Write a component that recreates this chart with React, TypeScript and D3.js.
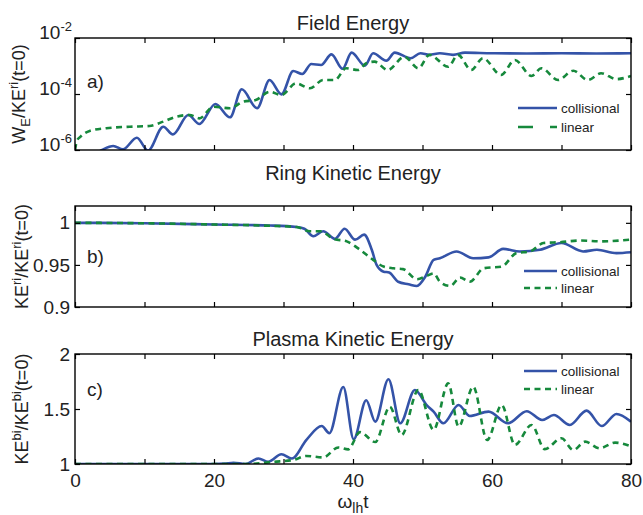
import React, { useEffect, useRef } from "react";
import * as d3 from "d3";

const width = 643;
const height = 515;

// x axis (omega_lh t)
const xTicks = [0, 10, 20, 30, 40, 50, 60, 70, 80];
const xTickLabels = [0, 20, 40, 60, 80];
const seriesNames = ["collisional", "linear"];

// y ticks per panel
const fieldTicks = [1e-6, 1e-4, 1e-2];
const ringTicks = [0.9, 0.95, 1];
const plasmaTicks = [1, 1.5, 2];

// a) Field Energy  [t, W_E/KE(t=0)]
const fieldCollisional = [
  [2.0, 5e-7], [3.9, 1.0e-6], [5.5, 1.39e-6], [6.9, 1.05e-6], [8.9, 2.75e-6],
  [10.5, 9.5e-7], [12.7, 6.8e-6], [14.1, 3.6e-6], [16.3, 1.78e-5], [17.9, 8.5e-6],
  [20.2, 4.4e-5], [22.3, 1.47e-5], [24.0, 1.47e-4], [26.2, 3.1e-5], [28.0, 3.16e-4],
  [29.7, 9.7e-5], [31.4, 6.6e-4], [32.7, 5.2e-4], [34.0, 1.18e-3], [35.4, 1.09e-3],
  [36.9, 2.6e-3], [38.5, 8.0e-4], [39.8, 3.0e-3], [41.7, 1.03e-3], [42.9, 2.85e-3],
  [44.8, 1.55e-3], [46.0, 3.0e-3], [48.3, 1.9e-3], [49.7, 2.85e-3], [51.0, 2.5e-3],
  [52.5, 2.85e-3], [54.4, 2.5e-3], [56.1, 3.0e-3], [60, 2.85e-3], [65, 2.8e-3],
  [70, 2.85e-3], [75, 2.8e-3], [80, 2.85e-3],
];
const fieldLinear = [
  [0, 1.0e-6], [0.3, 2.2e-6], [0.8, 3.0e-6], [2.1, 4.8e-6], [4.5, 6.0e-6],
  [7.9, 6.8e-6], [10.7, 7.2e-6], [12.7, 1.03e-5], [14.6, 1.55e-5], [16.5, 1.78e-5],
  [17.9, 1.35e-5], [19.9, 3.5e-5], [22.3, 3.1e-5], [24.2, 5.3e-5], [26.0, 6.1e-5],
  [28.0, 1.2e-4], [29.7, 9.2e-5], [31.8, 2.4e-4], [33.8, 1.6e-4], [35.7, 3.16e-4],
  [37.4, 3.16e-4], [39.0, 8.3e-4], [40.7, 7.2e-4], [41.9, 1.25e-3], [43.1, 1.43e-3],
  [45.0, 7.2e-4], [47.4, 2.15e-3], [49.4, 8.3e-4], [51.0, 2.5e-3], [53.7, 9.4e-4],
  [55.1, 2.5e-3], [57.0, 7.2e-4], [58.7, 1.9e-3], [61.3, 4.8e-4], [63.3, 1.64e-3],
  [65.7, 4.4e-4], [67.1, 8.3e-4], [69.5, 3.16e-4], [71.7, 6.8e-4], [73.8, 3.16e-4],
  [75.7, 5.5e-4], [77.9, 3.4e-4], [80, 4.4e-4],
];

// b) Ring Kinetic Energy
const ringCollisional = [
  [0, 1.0], [10, 0.9995], [20, 0.998], [28.1, 0.9968], [31.9, 0.995], [33.0, 0.993],
  [34.3, 0.984], [35.7, 0.99], [37.4, 0.981], [38.8, 0.993], [40.3, 0.98], [41.6, 0.986],
  [42.7, 0.968], [43.4, 0.95], [44.4, 0.942], [45.2, 0.941], [46.5, 0.93], [48.0, 0.927],
  [49.2, 0.925], [50.4, 0.936], [51.6, 0.956], [52.5, 0.958], [54.9, 0.966], [57.3, 0.958],
  [59.5, 0.959], [61.6, 0.969], [64, 0.966], [66.9, 0.968], [70, 0.976], [73.1, 0.966],
  [75.1, 0.968], [77.9, 0.964], [80, 0.965],
];
const ringLinear = [
  [0, 1.0], [10, 0.9995], [20, 0.998], [28, 0.9965], [31.9, 0.995], [33.8, 0.99],
  [35.3, 0.99], [37.2, 0.981], [39.1, 0.978], [41, 0.968], [42.9, 0.956], [44.4, 0.948],
  [45.8, 0.946], [47.2, 0.945], [49.2, 0.933], [50.6, 0.937], [51.6, 0.94], [52.5, 0.93],
  [54, 0.925], [55.4, 0.935], [56.8, 0.93], [58.8, 0.946], [61.4, 0.948], [63.5, 0.964],
  [65.5, 0.966], [67.4, 0.976], [69.8, 0.977], [72.7, 0.979], [75.5, 0.978], [80, 0.98],
];

// c) Plasma Kinetic Energy
const plasmaCollisional = [
  [0, 1], [20, 1.0], [21.5, 1.003], [22.8, 1.012], [24.5, 1.0], [26.4, 1.05], [27.8, 1.02],
  [29.7, 1.088], [31.2, 1.05], [33.3, 1.22], [35.5, 1.345], [36.6, 1.28], [38.6, 1.7],
  [40.1, 1.225], [41.9, 1.58], [43.2, 1.385], [45.1, 1.77], [46.8, 1.37], [48.9, 1.673],
  [50.6, 1.536], [51.6, 1.476], [53.0, 1.37], [55.2, 1.536], [56.8, 1.436], [59.5, 1.476],
  [62.3, 1.37], [65.0, 1.48], [67.2, 1.4], [68.9, 1.445], [71.2, 1.355], [73.6, 1.485],
  [75.8, 1.345], [77.9, 1.455], [80, 1.385],
];
const plasmaLinear = [
  [0, 1], [25, 1.0], [28.5, 1.02], [31.4, 1.036], [33.3, 1.073], [35.7, 1.06], [37.9, 1.15],
  [39.3, 1.133], [41.0, 1.29], [43.2, 1.2], [45.3, 1.52], [47.0, 1.264], [49.4, 1.673],
  [51.6, 1.31], [53.7, 1.733], [55.2, 1.34], [57.3, 1.703], [59.3, 1.218], [61.4, 1.536],
  [63.3, 1.173], [65.7, 1.355], [67.6, 1.135], [70.0, 1.234], [71.7, 1.127], [73.4, 1.203],
  [75.5, 1.143], [77.7, 1.194], [80, 1.16],
];

const BLUE = "#3453a8";
const GREEN = "#16893c";
const FONT = "'Liberation Sans', Arial, Helvetica, sans-serif";

// appends text pieces with vertical shifts (negative = up)
function richText(text, parts) {
  let cur = 0;
  parts.forEach(([str, shift, size]) => {
    text
      .append("tspan")
      .attr("dy", shift - cur)
      .attr("font-size", size)
      .text(str);
    cur = shift;
  });
}

export default function App() {
  const svgRef = useRef();

  useEffect(() => {
    const svg = d3.select(svgRef.current);
    svg.selectAll("*").remove();

    const x = d3.scaleLinear().domain([0, 80]).range([75, 631]);

    const panels = [
      {
        id: "a", title: "Field Energy", titleY: 30, top: 38, bottom: 150,
        y: d3.scaleLog().domain([1e-6, 1e-2]), ticks: fieldTicks, log: true,
        series: [fieldCollisional, fieldLinear], legendY: [108, 127], legendX: 518,
        legendDash: "15,17",
        label: [["W", 0, 18], ["E", 5, 13], ["/KE", 0, 18], ["ri", -7, 13], ["(t=0)", 0, 18]],
        labelX: 25,
      },
      {
        id: "b", title: "Ring Kinetic Energy", titleY: 180, top: 206, bottom: 307,
        y: d3.scaleLinear().domain([0.9, 1.02]), ticks: ringTicks,
        series: [ringCollisional, ringLinear], legendY: [271, 288], legendX: 524,
        legendDash: "6,4.5",
        label: [["KE", 0, 18], ["ri", -7, 13], ["/KE", 0, 18], ["ri", -7, 13], ["(t=0)", 0, 18]],
        labelX: 28,
      },
      {
        id: "c", title: "Plasma Kinetic Energy", titleY: 346, top: 354, bottom: 464,
        y: d3.scaleLinear().domain([1, 2]), ticks: plasmaTicks, xLabels: true,
        series: [plasmaCollisional, plasmaLinear], legendY: [371, 389], legendX: 524,
        legendDash: "6,4.5",
        label: [["KE", 0, 18], ["bi", -7, 13], ["/KE", 0, 18], ["bi", -7, 13], ["(t=0)", 0, 18]],
        labelX: 28,
      },
    ];

    panels.forEach((p) => {
      const y = p.y.range([p.bottom, p.top]);
      const g = svg.append("g").attr("font-family", FONT);

      g.append("clipPath")
        .attr("id", "clip-" + p.id)
        .append("rect")
        .attr("x", 75)
        .attr("y", p.top)
        .attr("width", 556)
        .attr("height", p.bottom - p.top);

      // Title
      g.append("text")
        .attr("x", 353)
        .attr("y", p.titleY)
        .attr("text-anchor", "middle")
        .attr("font-size", 20)
        .attr("fill", "#222")
        .text(p.title);

      // Lines
      const line = d3
        .line()
        .x((d) => x(d[0]))
        .y((d) => y(d[1]))
        .curve(d3.curveMonotoneX);

      const plot = g.append("g").attr("clip-path", `url(#clip-${p.id})`);
      p.series.forEach((data, i) => {
        plot
          .append("path")
          .datum(data)
          .attr("fill", "none")
          .attr("stroke", i === 0 ? BLUE : GREEN)
          .attr("stroke-width", 2.6)
          .attr("stroke-dasharray", i === 0 ? null : "6,4.5")
          .attr("d", line);
      });

      // Axes (ticks inward on all sides)
      const bottomAxis = d3
        .axisBottom(x)
        .tickValues(xTicks)
        .tickSizeInner(-5)
        .tickSizeOuter(0)
        .tickPadding(10)
        .tickFormat((d) => (p.xLabels && xTickLabels.includes(d) ? d : ""));
      g.append("g").attr("transform", `translate(0,${p.bottom})`).call(bottomAxis);
      g.append("g")
        .attr("transform", `translate(0,${p.top})`)
        .call(d3.axisTop(x).tickValues(xTicks).tickSizeInner(-5).tickSizeOuter(0).tickFormat(() => ""));

      const leftAxis = d3
        .axisLeft(y)
        .tickValues(p.ticks)
        .tickSizeInner(-5)
        .tickSizeOuter(0)
        .tickPadding(5)
        .tickFormat((d) => (p.log ? "" : d3.format("~g")(d)));
      const leftG = g.append("g").attr("transform", "translate(75,0)").call(leftAxis);
      g.append("g")
        .attr("transform", "translate(631,0)")
        .call(d3.axisRight(y).tickValues(p.ticks).tickSizeInner(-5).tickSizeOuter(0).tickFormat(() => ""));

      if (p.log) {
        leftG.selectAll(".tick text").each(function (d) {
          const t = d3.select(this);
          t.attr("x", -3);
          richText(t, [
            ["10", 0, 19],
            [String(Math.round(Math.log10(d))), -8, 13],
          ]);
        });
      }

      g.selectAll(".domain").remove();
      g.selectAll(".tick line").attr("stroke", "#000").attr("stroke-width", 1.2);
      g.selectAll(".tick text")
        .attr("font-family", FONT)
        .attr("font-size", 19)
        .attr("fill", "#222");

      // Box
      g.append("rect")
        .attr("x", 75)
        .attr("y", p.top)
        .attr("width", 556)
        .attr("height", p.bottom - p.top)
        .attr("fill", "none")
        .attr("stroke", "#000")
        .attr("stroke-width", 1.4);

      // Panel letter
      g.append("text")
        .attr("x", 87)
        .attr("y", (p.top + p.bottom) / 2 - (p.id === "a" ? 13 : p.id === "b" ? 0 : 20))
        .attr("dy", "0.35em")
        .attr("font-size", 19)
        .attr("fill", "#222")
        .text(p.id + ")");

      // Y label
      const yl = g
        .append("text")
        .attr("transform", `translate(${p.labelX},${(p.top + p.bottom) / 2}) rotate(-90)`)
        .attr("text-anchor", "middle")
        .attr("fill", "#222");
      richText(yl, p.label);

      // Legend
      seriesNames.forEach((name, i) => {
        const ly = p.legendY[i];
        g.append("line")
          .attr("x1", p.legendX)
          .attr("x2", 557)
          .attr("y1", ly)
          .attr("y2", ly)
          .attr("stroke", i === 0 ? BLUE : GREEN)
          .attr("stroke-width", 2.6)
          .attr("stroke-dasharray", i === 0 ? null : p.legendDash);
        g.append("text")
          .attr("x", 561)
          .attr("y", ly)
          .attr("dy", "0.35em")
          .attr("font-size", 13.5)
          .attr("fill", "#222")
          .text(name);
      });
    });

    // X label
    const xl = svg
      .append("text")
      .attr("x", 353)
      .attr("y", 508)
      .attr("text-anchor", "middle")
      .attr("font-family", FONT)
      .attr("fill", "#222");
    richText(xl, [
      ["ω", 0, 19],
      ["lh", 5, 14],
      ["t", 0, 19],
    ]);
  }, []);

  return (
    <svg
      ref={svgRef}
      width={width}
      height={height}
      style={{ position: "absolute", left: 0, top: 0, background: "#fff" }}
    ></svg>
  );
}
